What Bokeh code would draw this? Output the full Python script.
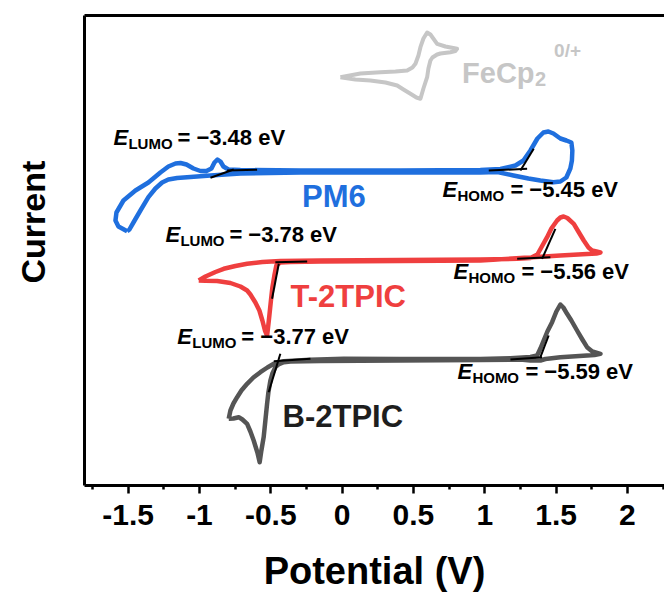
from bokeh.plotting import figure
from bokeh.models import Range1d, FixedTicker, LinearAxis, CustomJSTickFormatter
from bokeh.core.properties import value
from bokeh.embed import file_html
from bokeh.resources import INLINE

FONT = "Liberation Sans"

# ---------------- data (potential in V, current in arbitrary units, curves stacked) -------------
pm6_v = [-1.507, -1.568, -1.589, -1.582, -1.533, -1.449, -1.358, -1.274, -1.218, -1.168, -1.133,
         -1.091, -1.042, -0.993, -0.951, -0.916, -0.895, -0.874, -0.853, -0.832, -0.797, -0.713,
         -0.292, 0.409, 0.969, 1.110, 1.215, 1.271, 1.320, 1.369, 1.411, 1.446, 1.481, 1.530,
         1.572, 1.607, 1.614, 1.611, 1.600, 1.572, 1.530, 1.481, 1.390, 1.306, 1.201, 1.089,
         0.969, 0.409, -0.292, -0.713, -0.923, -1.063, -1.157, -1.218, -1.262, -1.309, -1.358,
         -1.414, -1.463, -1.491]
pm6_i = [254.3, 259, 265, 273, 285, 295, 303, 313, 319, 322, 322.5,
         321, 317, 314.5, 314.5, 317, 323, 326, 324, 319, 316, 315.5,
         315, 315, 315.5, 316.5, 320, 325, 335, 347, 353, 354, 352, 347,
         345, 343, 335, 325, 317, 308, 304, 303.3, 305, 307, 310, 313.5,
         313, 313, 313, 312, 310, 308.5, 307.5, 306, 303, 297, 288.3,
         275, 263, 256]

t2_v = [-1.005, -0.958, -0.888, -0.830, -0.748, -0.666, -0.559, -0.433, -0.152, 0.409, 0.969,
        1.227, 1.320, 1.369, 1.404, 1.437, 1.467, 1.507, 1.530, 1.553, 1.579, 1.624, 1.656,
        1.694, 1.727, 1.752, 1.783, 1.811, 1.783, 1.717, 1.530, 1.250, 0.969, 0.409, -0.152,
        -0.362, -0.433, -0.461, -0.475, -0.489, -0.499, -0.510, -0.520, -0.526, -0.541, -0.559,
        -0.580, -0.608, -0.643, -0.666, -0.713, -0.783, -0.876, -0.958]
t2_i = [205, 209, 213.5, 216.7, 219.5, 221.7, 223.5, 224.5, 225, 225.5, 226,
        226.7, 227.5, 231, 240, 248.3, 257, 265, 268, 269, 267.5, 261.7, 254,
        245, 238, 235, 234, 233, 232, 231.5, 230, 227.5, 225, 224.5, 224,
        223.5, 223, 220, 210, 198, 185, 170, 157, 150, 155, 165,
        175, 183, 191, 195, 199, 202.5, 204.5, 204.7]

b2_v = [-0.795, -0.783, -0.762, -0.736, -0.706, -0.666, -0.622, -0.573, -0.524, -0.479, -0.409,
        -0.222, 0.011, 0.409, 0.969, 1.180, 1.320, 1.367, 1.390, 1.413, 1.439, 1.472, 1.502,
        1.530, 1.551, 1.577, 1.607, 1.647, 1.684, 1.717, 1.754, 1.811, 1.769, 1.717, 1.530,
        1.425, 1.390, 1.320, 1.250, 0.969, 0.409, -0.152, -0.362, -0.409, -0.447, -0.468,
        -0.489, -0.503, -0.517, -0.526, -0.538, -0.550, -0.566, -0.578, -0.594, -0.620, -0.643,
        -0.666, -0.699, -0.725, -0.762]
b2_i = [66.7, 75, 82, 88.3, 95, 101.7, 108, 113.3, 118, 121.7, 124.3,
        125.7, 126.7, 126.5, 126.5, 127.3, 128.5, 130, 137, 145, 154, 163.3, 174,
        181, 178, 171.7, 165, 155, 146, 138.3, 134, 131.7, 130.5, 130, 128.3,
        126.5, 125, 125, 126, 125.5, 125, 124.5, 124, 123.3, 121, 118.3,
        112, 105, 93, 81.7, 65, 48.3, 35, 23.3, 33, 45, 54,
        61.7, 66, 68.3, 67]

fc_v = [-0.012, 0.128, 0.268, 0.374, 0.456, 0.493, 0.514, 0.535, 0.549, 0.570, 0.596, 0.619,
        0.666, 0.724, 0.806, 0.794, 0.759, 0.689, 0.666, 0.633, 0.619, 0.605, 0.596, 0.570,
        0.549, 0.521, 0.479, 0.430, 0.386, 0.304, 0.198, 0.093]
fc_i = [408.3, 412, 413.3, 414, 415, 418, 421.7, 430, 438.3, 447, 453, 451,
        441.7, 439, 436.7, 434.5, 433.3, 432, 431, 428, 425, 417, 408.3, 397,
        386.7, 388, 391.7, 396, 400, 403, 405, 406]

# onset tangent lines: (v0, i0) -> (v1, i1)
tangent_v0 = [-0.923, -0.806, 1.028, 1.250, -0.491, -0.468, 1.227, 1.402, -0.515, -0.479, 1.180, 1.390]
tangent_i0 = [307.7, 315, 315, 315, 186.7, 223.3, 226.7, 226.7, 93.3, 124.3, 126, 128.3]
tangent_v1 = [-0.760, -0.596, 1.297, 1.343, -0.444, -0.245, 1.460, 1.495, -0.433, -0.222, 1.402, 1.448]
tangent_i1 = [316, 315.7, 316.7, 336.7, 221.7, 224, 228.3, 256.7, 131.7, 126.7, 128.3, 150]

# energy level annotations
e_kind = ["LUMO", "HOMO", "LUMO", "HOMO", "LUMO", "HOMO"]
e_value = ["\u22123.48", "\u22125.45", "\u22123.78", "\u22125.56", "\u22123.77", "\u22125.59"]
e_x = [-1.603, 0.703, -1.239, 0.780, -1.155, 0.808]
e_y = [348, 296, 251, 214, 149, 114]

names = ["PM6", "T-2TPIC", "B-2TPIC"]
name_x = [-0.281, -0.362, -0.418]
name_y = [289.3, 189.3, 69.3]

x_major = [-1.5, -1.0, -0.5, 0.0, 0.5, 1.0, 1.5, 2.0]
x_minor = [-1.75, -1.25, -0.75, -0.25, 0.25, 0.75, 1.25, 1.75, 2.25]

BLUE = "#1f6fde"
RED = "#ef3f3f"
GRAY = "#555555"
FC = "#c6c6c6"

p = figure(width=664, height=594, x_range=Range1d(-1.806, 2.26), y_range=Range1d(0, 470),
           output_backend="svg", toolbar_location=None,
           min_border_left=84, min_border_right=0, min_border_top=15, min_border_bottom=109)
p.outline_line_color = None
p.grid.visible = False

# bottom axis
ax = p.xaxis[0]
ax.ticker = FixedTicker(ticks=x_major, minor_ticks=x_minor)
ax.formatter = CustomJSTickFormatter(code="return tick.toString()")
ax.axis_line_width = 3
ax.major_tick_line_width = 2.5
ax.minor_tick_line_width = 2.5
ax.major_tick_in = 0
ax.major_tick_out = 8
ax.minor_tick_in = 0
ax.minor_tick_out = 4
ax.major_label_text_font = FONT
ax.major_label_text_font_style = "bold"
ax.major_label_text_font_size = "30px"
ax.major_label_text_color = "black"
ax.major_label_standoff = 11
ax.axis_label = "Potential (V)"
ax.axis_label_text_font = FONT
ax.axis_label_text_font_style = "bold"
ax.axis_label_text_font_size = "38px"
ax.axis_label_text_color = "black"
ax.axis_label_standoff = 22
ax.axis_label_text_line_height = 0.8
ax.major_label_text_line_height = 0.8

# left frame line with the "Current" label (nbsp padding lifts it above the frame centre)
ay = p.yaxis[0]
ay.ticker = FixedTicker(ticks=[])
ay.axis_line_width = 3
ay.major_tick_line_color = None
ay.minor_tick_line_color = None
ay.major_tick_out = 0
ay.minor_tick_out = 0
ay.major_tick_in = 0
ay.minor_tick_in = 0
ay.axis_label = "\u00a0" * 6 + "Current"
ay.axis_label_text_font = FONT
ay.axis_label_text_font_style = "bold"
ay.axis_label_text_font_size = "34px"
ay.axis_label_text_color = "black"
ay.axis_label_standoff = 33

# top frame line
top = LinearAxis(ticker=FixedTicker(ticks=[]), axis_line_width=3,
                 major_tick_line_color=None, minor_tick_line_color=None)
p.add_layout(top, "above")

def closed(a):
    return list(a) + [a[0]]

p.line(closed(fc_v), closed(fc_i), line_color=FC, line_width=4, line_join="round")
p.line(closed(pm6_v), closed(pm6_i), line_color=BLUE, line_width=4.5, line_join="round")
p.line(closed(t2_v), closed(t2_i), line_color=RED, line_width=4.5, line_join="round")
p.line(closed(b2_v), closed(b2_i), line_color=GRAY, line_width=4.5, line_join="round")

p.segment(x0=tangent_v0, y0=tangent_i0, x1=tangent_v1, y1=tangent_i1,
          line_color="black", line_width=2)

# energy annotations
p.text(x=e_x, y=e_y, text=["E"] * len(e_x), text_font=value(FONT), text_font_style="bold italic",
       text_font_size="22px", text_baseline="alphabetic", text_align="left", text_color="black")
p.text(x=e_x, y=e_y, text=e_kind, x_offset=15, y_offset=6, text_font=value(FONT),
       text_font_style="bold", text_font_size="15px", text_baseline="alphabetic",
       text_align="left", text_color="black")
eq_off = [64 if k == "LUMO" else 68 for k in e_kind]
p.text(x=e_x, y=e_y, text=["= " + v + " eV" for v in e_value], x_offset=eq_off,
       text_font=value(FONT), text_font_style="bold", text_font_size="22px",
       text_baseline="alphabetic", text_align="left", text_color="black")

# compound names
p.text(x=name_x, y=name_y, text=names, text_color=[BLUE, RED, "#1e1e1e"],
       text_font=value(FONT), text_font_style="bold", text_font_size="31px",
       text_baseline="alphabetic", text_align="left")

# ferrocene label
fc_x = [0.841]
fc_y = [413]
p.text(x=fc_x, y=fc_y, text=["FeCp"], text_color=FC, text_font=value(FONT),
       text_font_style="bold", text_font_size="29px", text_baseline="alphabetic")
p.text(x=fc_x, y=fc_y, text=["2"], x_offset=73, y_offset=6, text_color=FC, text_font=value(FONT),
       text_font_style="bold", text_font_size="20px", text_baseline="alphabetic")
p.text(x=fc_x, y=fc_y, text=["0/+"], x_offset=92, y_offset=-22, text_color=FC,
       text_font=value(FONT), text_font_style="bold", text_font_size="19px",
       text_baseline="alphabetic")

open("out.html", "w").write(file_html(p, INLINE))
